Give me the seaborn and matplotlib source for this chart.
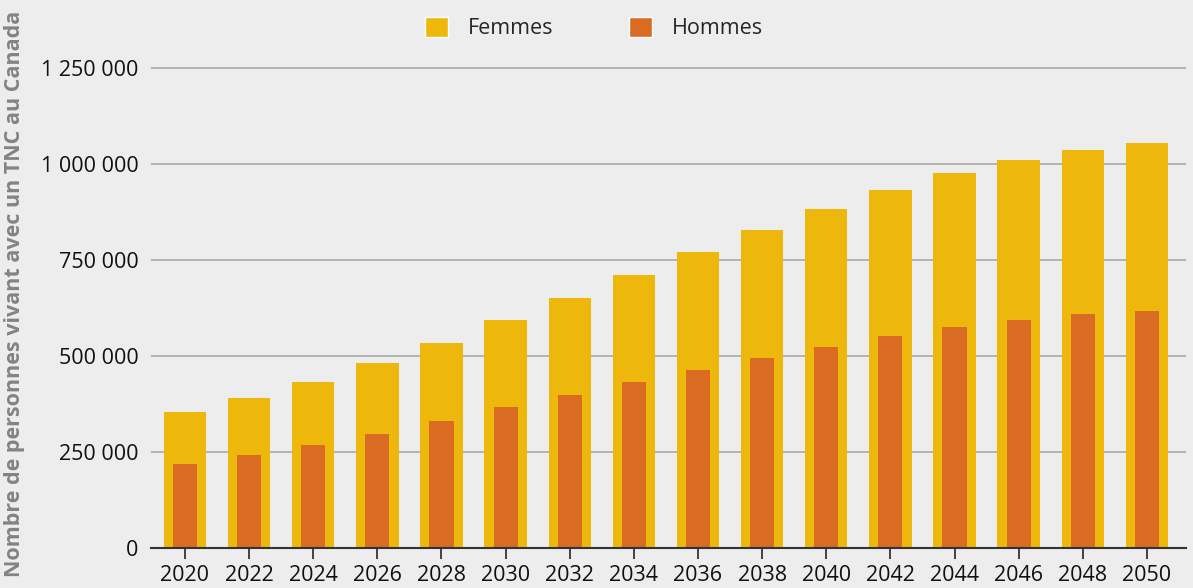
import pandas as pd
import numpy as np
import matplotlib.pyplot as plt
import seaborn as sns
from matplotlib.patches import Patch
from matplotlib.ticker import FuncFormatter

# --- Données ---
annees = ['2020', '2022', '2024', '2026', '2028', '2030', '2032', '2034',
          '2036', '2038', '2040', '2042', '2044', '2046', '2048', '2050']
femmes = [354000, 391000, 432000, 482000, 534000, 594000, 651000, 711000,
          771000, 828000, 883000, 932000, 977000, 1010000, 1036000, 1055000]
hommes = [219000, 242000, 268000, 297000, 331000, 367000, 398000, 432000,
          464000, 495000, 523000, 552000, 576000, 594000, 609000, 617000]

df = pd.DataFrame({'Année': annees, 'Femmes': femmes, 'Hommes': hommes})

couleur_f = '#EDB70C'
couleur_h = '#D96C22'
fond = '#EDEDED'

sns.set_theme(style='white')
plt.rcParams['font.family'] = ['Open Sans', 'DejaVu Sans']

fig = plt.figure(figsize=(11.93, 5.88), dpi=100, facecolor=fond)
ax = fig.add_axes([151 / 1193, 40 / 588, (1186 - 151) / 1193, 500 / 588])
ax.set_facecolor(fond)

sns.barplot(data=df, x='Année', y='Femmes', color=couleur_f, width=0.66,
            saturation=1, linewidth=0, ax=ax, zorder=2)
sns.barplot(data=df, x='Année', y='Hommes', color=couleur_h, width=0.375,
            saturation=1, linewidth=0, ax=ax, zorder=3)

ax.set_xlim(-0.53, 15.61)
ax.set_ylim(0, 1302000)
ax.set_yticks([0, 250000, 500000, 750000, 1000000, 1250000])
ax.yaxis.set_major_formatter(FuncFormatter(lambda v, p: f"{int(v):,}".replace(',', ' ')))
ax.grid(axis='y', color='#A8A8A8', linewidth=1.2, zorder=0)
ax.set_axisbelow(True)

for s in ['top', 'right', 'left']:
    ax.spines[s].set_visible(False)
ax.spines['bottom'].set_color('#333333')
ax.spines['bottom'].set_linewidth(1.5)
ax.spines['bottom'].set_zorder(4)

ax.tick_params(axis='y', length=0, pad=9, labelsize=15.5, labelcolor='#111111')
ax.tick_params(axis='x', bottom=True, length=8, width=1.3, color='#333333',
               pad=4, labelsize=15.5, labelcolor='#111111')

ax.set_xlabel('')
ax.set_ylabel('')
fig.text(15 / 1193, 0.5, 'Nombre de personnes vivant avec un TNC au Canada',
         rotation=90, ha='center', va='center', fontsize=15.5, fontweight='bold',
         color='#838383')

handles = [Patch(facecolor=couleur_f, label='Femmes'),
           Patch(facecolor=couleur_h, label='Hommes')]
fig.legend(handles=handles, loc='center', bbox_to_anchor=(594 / 1193, 1 - 28 / 588),
           ncol=2, frameon=False, fontsize=15.5, handlelength=1.07, handleheight=1.07,
           handletextpad=0.95, columnspacing=3.5)

fig.savefig('out.png', dpi=100, facecolor=fond)
